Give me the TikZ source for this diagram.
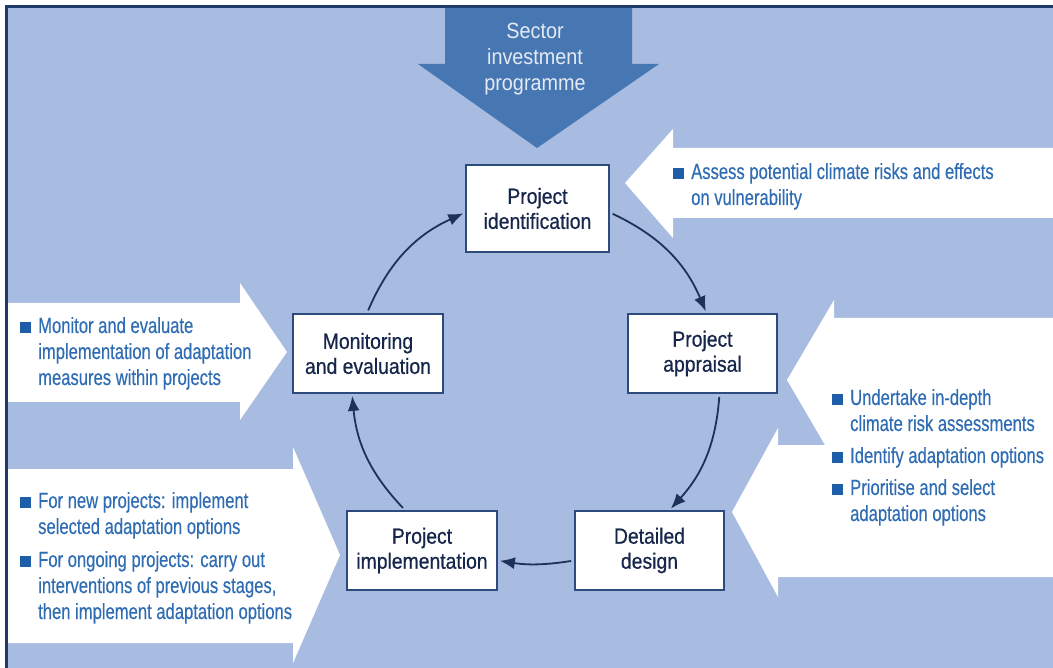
\documentclass[tikz,border=0pt]{standalone}
\usepackage{fontspec}
\setmainfont{Liberation Sans}
\newfontfamily\bulfont{Liberation Sans}[FakeStretch=0.755,FakeBold=0.3]
\newfontfamily\boxfont{Liberation Sans}[FakeStretch=0.88,FakeBold=0.6]
\newfontfamily\topfont{Liberation Sans}[FakeStretch=0.9]
\usetikzlibrary{arrows.meta}
\definecolor{bg}{HTML}{A8BCE1}
\definecolor{darkarrow}{HTML}{4677B3}
\definecolor{bultext}{HTML}{2E6CB3}
\definecolor{bulsq}{HTML}{1E5EA8}
\definecolor{boxline}{HTML}{2C4B7C}
\definecolor{boxtext}{HTML}{16254A}
\definecolor{cycl}{HTML}{1C3258}
\definecolor{framecol}{HTML}{1E3A6A}
\definecolor{toptxt}{HTML}{E4EAF4}
\newcommand{\bsq}{\textcolor{bulsq}{\rule{11pt}{11pt}}}
\begin{document}
\begin{tikzpicture}[x=1pt,y=-1pt,
  stage/.style={draw=boxline, line width=1.8pt, fill=white, text=boxtext,
    font=\boxfont\fontsize{22}{25}\selectfont, align=center, inner sep=0pt,
    minimum height=79pt, minimum width=149pt},
  cyc/.style={draw=cycl, line width=1.8pt, -{Latex[length=15pt,width=12pt]},
    shorten <=3pt, shorten >=2pt},
  bullist/.style={anchor=base west, inner sep=0pt, text=bultext,
    font=\bulfont\fontsize{22}{26}\selectfont},
  toptext/.style={text=toptxt, align=center, inner sep=0pt,
    font=\topfont\fontsize{22}{26}\selectfont},
  bigwhite/.style={fill=white},
]
\useasboundingbox (0,0) rectangle (1053,668);
\fill[white] (0,0) rectangle (1053,668);
\fill[bg] (6,6) rectangle (1053,668);
\draw[framecol, line width=3pt] (6.5,668) -- (6.5,6.5) -- (1053,6.5);

% top dark arrow
\fill[darkarrow] (445,8) -- (632,8) -- (632,64) -- (659,64) -- (537,148) -- (418,64) -- (445,64) -- cycle;
\node[toptext] (sip) at (535,59) {Sector\\investment\\programme};

% white arrows
\fill[bigwhite] (1053,148) -- (673,148) -- (673,129) -- (625,183) -- (673,238) -- (673,218) -- (1053,218) -- cycle;
\fill[bigwhite] (1053,318) -- (834,318) -- (834,300) -- (787,380) -- (825,445) -- (778,445) -- (778,428)
  -- (732,512) -- (778,597) -- (778,577) -- (1053,577) -- cycle;
\fill[bigwhite] (8,303) -- (240,303) -- (240,283) -- (287,352) -- (240,420) -- (240,402) -- (8,402) -- cycle;
\fill[bigwhite] (8,469) -- (293,469) -- (293,447) -- (340,555) -- (293,663) -- (293,643) -- (8,643) -- cycle;

% bullet texts
\node[bullist] (t1) at (673,179) {\begin{tabular}[t]{@{}l@{\hspace{7pt}}l@{}}
  \bsq & Assess potential climate risks and effects\\
       & on vulnerability\end{tabular}};
\node[bullist] (t2) at (832,405) {\begin{tabular}[t]{@{}l@{\hspace{7pt}}l@{}}
  \bsq & Undertake in-depth\\
       & climate risk assessments\\[6pt]
  \bsq & Identify adaptation options\\[6pt]
  \bsq & Prioritise and select\\
       & adaptation options\end{tabular}};
\node[bullist] (t3) at (20,333) {\begin{tabular}[t]{@{}l@{\hspace{7pt}}l@{}}
  \bsq & Monitor and evaluate\\
       & implementation of adaptation\\
       & measures within projects\end{tabular}};
\node[bullist] (t4) at (20,508) {\begin{tabular}[t]{@{}l@{\hspace{7pt}}l@{}}
  \bsq & For new projects: implement\\
       & selected adaptation options\\[7pt]
  \bsq & For ongoing projects: carry out\\
       & interventions of previous stages,\\
       & then implement adaptation options\end{tabular}};

% stage boxes
\node[stage, minimum width=143pt, minimum height=87pt] (id) at (537.5,208.5) {Project\\identification};
\node[stage, minimum width=150pt] (mon) at (368,353.5) {Monitoring\\and evaluation};
\node[stage] (app) at (702.5,353.5) {Project\\appraisal};
\node[stage, minimum width=150pt] (imp) at (422,550.5) {Project\\implementation};
\node[stage] (des) at (649.5,550.5) {Detailed\\design};

% cycle arrows
\draw[cyc] ([yshift=-4pt]id.east) to[bend left=21] ([xshift=4pt]app.north);
\draw[cyc] ([xshift=17pt]app.south) to[bend left=19] ([xshift=20pt]des.north);
\draw[cyc] ([yshift=-10pt]des.west) to[bend left=9] ([yshift=-10pt]imp.east);
\draw[cyc] ([xshift=-17pt]imp.north) to[bend left=19] ([xshift=-16pt]mon.south);
\draw[cyc] ([xshift=-1pt]mon.north) to[bend left=21] ([yshift=-4pt]id.west);
\end{tikzpicture}
\end{document}
